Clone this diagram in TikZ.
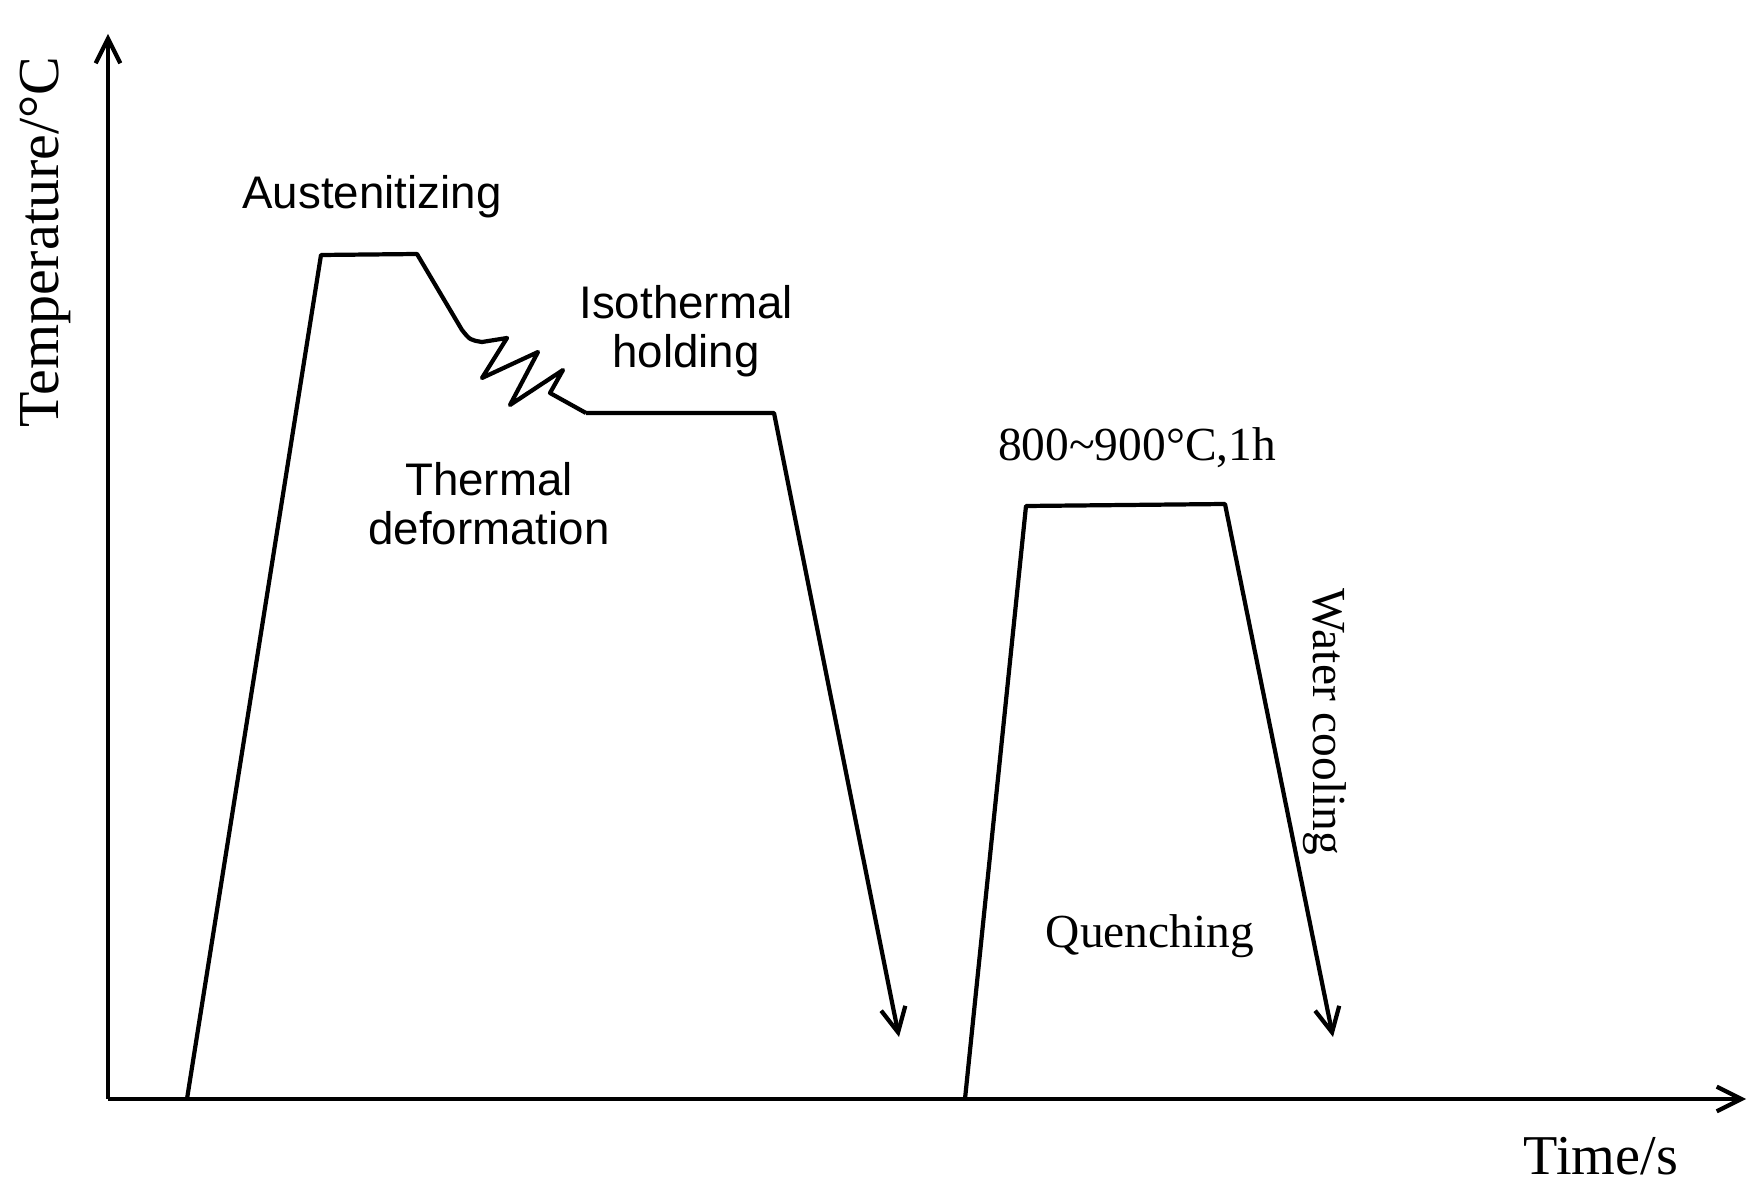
\documentclass[tikz,border=0pt]{standalone}
\usepackage{fontspec}
\setmainfont{Liberation Serif}
\newfontfamily\sansf{Liberation Sans}
\usetikzlibrary{arrows.meta}
\begin{document}
\begin{tikzpicture}[x=0.02cm,y=-0.02cm,
  ln/.style={line width=2.4pt,line join=round},
  arr/.style={-{Straight Barb[length=14pt,width=14pt,line width=2.4pt]}},
  ss/.style={font=\sansf\fontsize{26}{30}\selectfont,align=center},
  sf/.style={font=\fontsize{27}{31}\selectfont}]
\useasboundingbox (0,0) rectangle (1759,1199);
\coordinate (O) at (108,1099);
\coordinate (Y) at (108,34);
\coordinate (X) at (1746,1099);
\draw[ln,arr] (O) -- (Y);
\draw[ln,arr] (O) -- (X);
\coordinate (a0) at (187,1099);
\coordinate (a1) at (321,255);
\coordinate (a2) at (417,254);
\coordinate (z1) at (586,413);
\coordinate (a3) at (774,413);
\coordinate (a4) at (899,1037);
\draw[ln] (a0) -- (a1) -- (a2) -- (462,330) .. controls (470,340) .. (482,342)
  -- (507,338) -- (482,378) -- (538,352) -- (510,405) -- (563,370) -- (550,393) -- (z1);
\draw[ln,arr] (z1) -- (a3) -- (a4);
\coordinate (b0) at (965,1099);
\coordinate (b1) at (1026,506);
\coordinate (b2) at (1225,504);
\coordinate (b3) at (1333,1037);
\draw[ln,arr] (b0) -- (b1) -- (b2) -- (b3);
\node[font=\fontsize{33}{36}\selectfont,rotate=90] (ty) at (45,242) {Temperature/°C};
\node[font=\fontsize{32}{36}\selectfont] (tx) at (1601,1156) {Time/s};
\node[ss] (aus) at (372,197) {Austenitizing};
\node[ss] (iso) at (686,331) {Isothermal\\[-2pt]holding};
\node[ss] (thd) at (489,504) {Thermal\\[-2pt]deformation};
\node[sf] (tmp) at (1137,448) {800\char`~900°C,1h};
\node[sf] (q) at (1150,936) {Quenching};
\node[sf,rotate=-90] (wc) at (1325,722) {Water cooling};
\end{tikzpicture}
\end{document}
